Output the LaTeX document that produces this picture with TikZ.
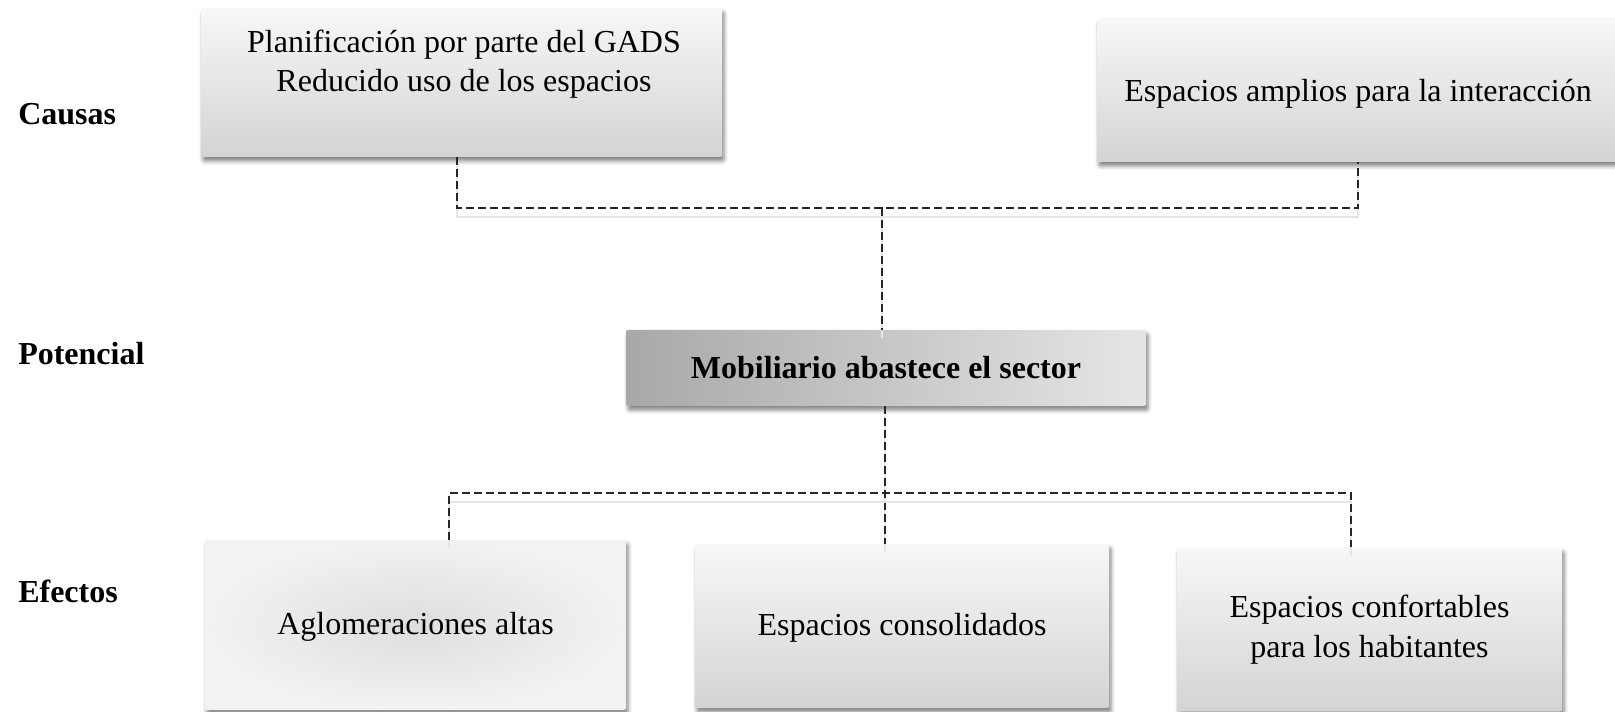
\documentclass[tikz,border=0pt]{standalone}
\usepackage{fontspec}
\setmainfont{Liberation Serif}
\usetikzlibrary{calc,shadows.blur}

\tikzset{
    cajafondo/.style={rectangle, rounded corners=1.5pt, inner sep=0pt,
        blur shadow={shadow xshift=1.5pt, shadow yshift=-3pt, shadow blur radius=3pt, shadow opacity=50}},
    cajaclara/.style={cajafondo, top color=black!3, bottom color=black!17},
    texto/.style={font=\fontsize{24pt}{29.25pt}\selectfont, align=center},
    etiqueta/.style={font=\fontsize{24pt}{28pt}\selectfont\bfseries, anchor=base west, inner sep=0pt},
    enlace/.style={dash pattern=on 6pt off 3pt, line width=1pt, black!85,
        preaction={draw=black!10, line width=1.3pt, transform canvas={yshift=-6.5pt}}},
}

\begin{document}
\begin{tikzpicture}[x=0.75pt, y=-0.75pt]
    \useasboundingbox (0,0) rectangle (1615,712);

    % Niveles
    \node[etiqueta] (causas) at (18,125) {Causas};
    \node[etiqueta] (potencial) at (18,364) {Potencial};
    \node[etiqueta] (efectos) at (18,602) {Efectos};

    % Causas
    \node[cajaclara, minimum width=390.75pt, minimum height=111.75pt] (c1) at (461.5,82.5) {};
    \node[texto] (t1) at (464,64) {Planificación por parte del GADS\\Reducido uso de los espacios};
    \node[cajaclara, texto, text height=23pt, text depth=5.5pt,
        minimum width=391.5pt, minimum height=108pt] (c2) at (1358,90) {Espacios amplios para la interacción};

    % Potencial
    \node[cajafondo, left color=black!34, right color=black!10, minimum width=390pt, minimum height=57pt,
        font=\fontsize{24pt}{28pt}\selectfont\bfseries] (p1) at (886,368) {Mobiliario abastece el sector};

    % Efectos
    \node[cajafondo, inner color=black!13, outer color=black!5, texto, text height=19.5pt, text depth=5.5pt,
        minimum width=315.75pt, minimum height=127.5pt] (e1) at (415.5,625) {Aglomeraciones altas};
    \node[cajaclara, texto, text height=19.5pt, text depth=5.5pt,
        minimum width=310.5pt, minimum height=123pt] (e2) at (902,626) {Espacios consolidados};
    \node[cajaclara, texto, font=\fontsize{24pt}{30pt}\selectfont,
        minimum width=288.75pt, minimum height=123pt] (e3) at (1369.5,629.5) {Espacios confortables\\para los habitantes};

    % Conectores
    \coordinate (nsup) at (882,208);
    \coordinate (ninf) at (885,493);
    \draw[enlace] ($(c1.south)+(-4.5,0)$) |- (nsup) -| (c2.south);
    \draw[enlace] (nsup) -- (nsup |- p1.north);
    \draw[enlace] (p1.south -| ninf) -- (ninf) -- (ninf |- e2.north);
    \draw[enlace] ($(e1.north)+(33.5,0)$) |- (ninf) -| ($(e3.north)+(-18.5,0)$);
\end{tikzpicture}
\end{document}
